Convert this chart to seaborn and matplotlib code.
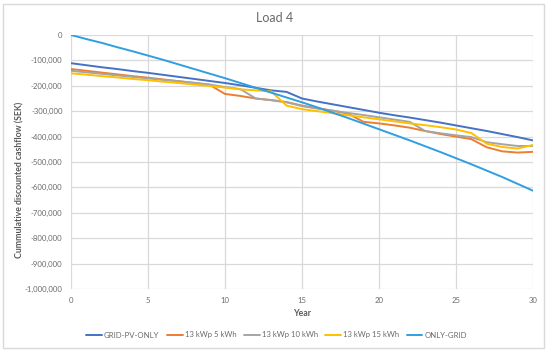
import matplotlib
matplotlib.use("Agg")
import matplotlib.pyplot as plt
import numpy as np
import pandas as pd
import seaborn as sns
from matplotlib.patches import Rectangle
from matplotlib.ticker import FuncFormatter

# values, in thousands of SEK
years = list(range(0, 31))
grid_pv_only = [-111, -119, -127, -134, -142, -149, -157, -165, -173, -181,
                -189, -198, -208, -218, -224, -250, -262, -273, -284, -295,
                -306, -316, -325, -335, -345, -356, -367, -378, -390, -402, -415]
kwp13_5kwh = [-134, -141, -148, -155, -162, -168, -175, -182, -189, -196,
              -232, -240, -250, -256, -264, -278, -288, -298, -310, -342,
              -348, -356, -365, -378, -390, -400, -410, -442, -458, -463, -460]
kwp13_10kwh = [-141, -147, -153, -159, -165, -171, -177, -182, -188, -195,
               -205, -213, -250, -257, -265, -280, -290, -298, -307, -315,
               -324, -333, -342, -378, -387, -395, -402, -422, -430, -437, -437]
kwp13_15kwh = [-151, -156, -162, -167, -173, -178, -184, -189, -195, -201,
               -207, -214, -218, -222, -278, -292, -300, -308, -316, -324,
               -332, -340, -348, -355, -363, -372, -386, -428, -441, -447, -433]
only_grid = [0, -16, -31, -48, -64, -81, -98, -116, -134, -152,
             -170, -189, -208, -227, -246, -265, -285, -306, -327, -349,
             -371, -393, -415, -438, -461, -485, -509, -534, -559, -586, -613]

series_names = ["GRID-PV-ONLY", "13 kWp 5 kWh", "13 kWp 10 kWh", "13 kWp 15 kWh", "ONLY-GRID"]
series_values = [grid_pv_only, kwp13_5kwh, kwp13_10kwh, kwp13_15kwh, only_grid]
colors = ["#4472C4", "#ED7D31", "#A5A5A5", "#FFC000", "#2F9FE0"]

frames = []
for name, vals in zip(series_names, series_values):
    frames.append(pd.DataFrame({"Year": years,
                                "cashflow": np.array(vals) * 1000.0,
                                "series": name}))
df = pd.concat(frames, ignore_index=True)

sns.set_theme(style="whitegrid")
plt.rcParams["font.family"] = ["Lato", "DejaVu Sans"]
plt.rcParams["axes.unicode_minus"] = False

text_grey = "#6a6a6a"
grid_grey = "#d9d9d9"

fig = plt.figure(figsize=(5.5, 3.52), dpi=100)
ax = fig.add_axes([0.129, 0.179, 0.84, 0.7216])

sns.lineplot(data=df, x="Year", y="cashflow", hue="series",
             hue_order=series_names, palette=colors, linewidth=1.4,
             ax=ax, legend=True)

ax.set_xlim(0, 30)
ax.set_ylim(-1_000_000, 0)
ax.set_xticks(range(0, 31, 5))
ax.set_yticks(range(-1_000_000, 1, 100_000))
ax.yaxis.set_major_formatter(FuncFormatter(lambda v, p: f"{int(v):,}"))
ax.grid(True, color=grid_grey, linewidth=0.9)
for s in ax.spines.values():
    s.set_visible(False)
ax.tick_params(length=0, labelsize=5.6, colors=text_grey, pad=6)
ax.set_xlabel("")
ax.set_ylabel("")

fig.text(0.549, 1 - 313 / 352, "Year", ha="center", va="center",
         fontsize=6.3, fontweight="bold", color="#595959")
fig.text(20 / 550, 1 - 180 / 352, "Cummulative discounted cashflow (SEK)",
         rotation=90, ha="center", va="center", fontsize=6.3,
         fontweight="bold", color="#595959")
fig.text(0.5, 1 - 18 / 352, "Load 4", ha="center", va="center",
         fontsize=9, color=text_grey)

handles, labels = ax.get_legend_handles_labels()
ax.legend_.remove()
fig.legend(handles, labels, loc="center", bbox_to_anchor=(0.503, 1 - 335 / 352),
           ncol=5, frameon=False, fontsize=5.6, handlelength=2.0,
           handletextpad=0.25, columnspacing=1.0, labelcolor=text_grey)

fig.patches.append(Rectangle((3 / 550, 4 / 352), 541 / 550, 344 / 352,
                             transform=fig.transFigure, fill=False,
                             edgecolor=grid_grey, linewidth=1))

fig.savefig("out.png", dpi=100)
